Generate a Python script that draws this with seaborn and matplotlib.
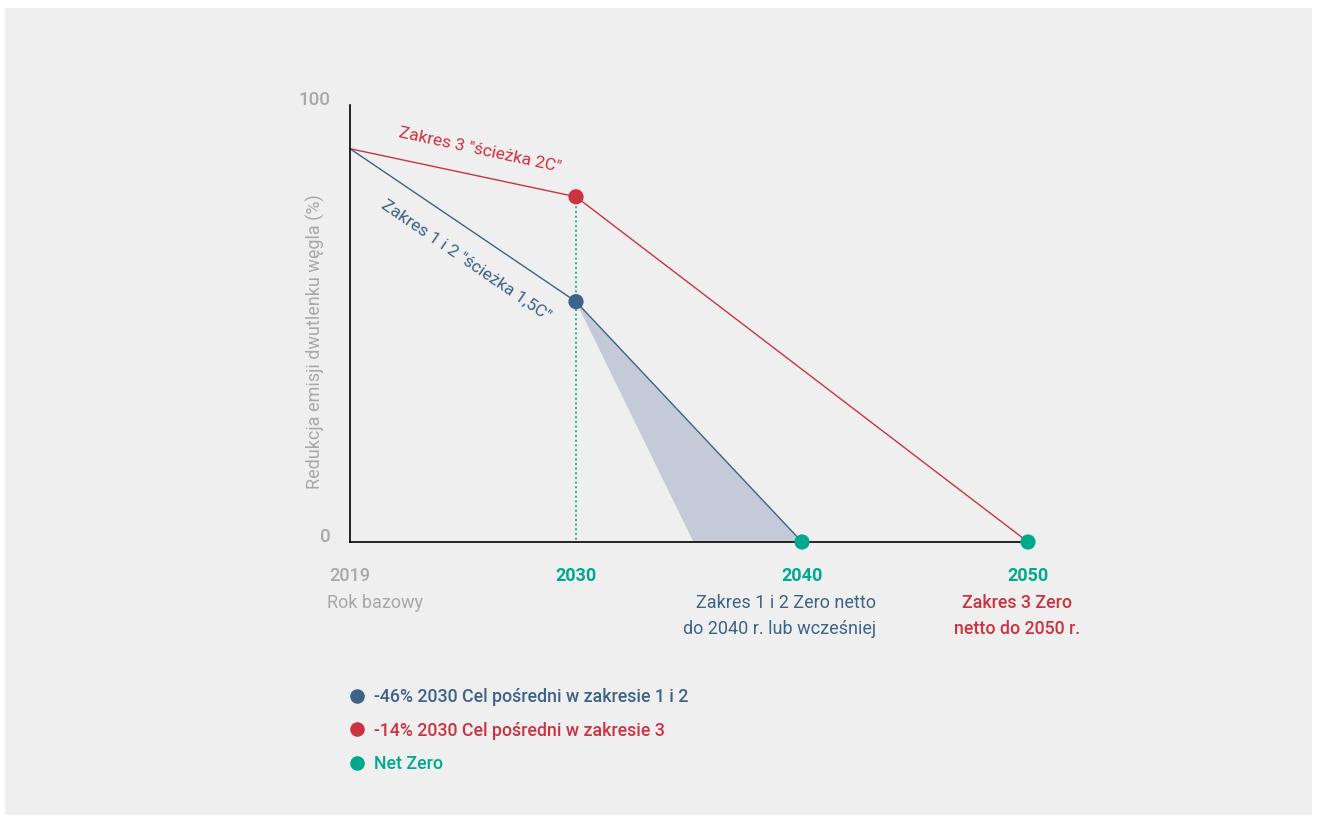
import matplotlib
matplotlib.use("Agg")
import matplotlib.pyplot as plt
from matplotlib.patches import Rectangle
from matplotlib.lines import Line2D
import seaborn as sns
import pandas as pd

# ---- data ----
# the x axis is drawn as evenly spaced milestones (2019, 2030, 2040, 2050)
milestones = [2019, 2030, 2040, 2050]
tick_labels = ["2019", "2030", "2040", "2050"]
scope12_years = [2019, 2030, 2040]
scope12_values = [90, 55, 0]
scope3_years = [2019, 2030, 2050]
scope3_values = [90, 79, 0]
netzero_years = [2040, 2050]
netzero_values = [0, 0]
shade_years = [2030, 2040, 2035.2]
shade_values = [55, 0, 0]
y_ticks = [0, 20, 40, 60, 80, 100]
y_tick_labels = ["0", "", "", "", "", "100"]
legend_labels = ["-46% 2030 Cel pośredni w zakresie 1 i 2",
                 "-14% 2030 Cel pośredni w zakresie 3",
                 "Net Zero"]

BLUE = "#3d6389"
RED = "#cc3340"
TEAL = "#00a88e"
SHADE = "#c5cad8"
GRAY = "#a8a8a8"
BG = "#efefef"


def pos(year):
    """Map a year onto the evenly spaced milestone axis."""
    for i in range(len(milestones) - 1):
        a, b = milestones[i], milestones[i + 1]
        if a <= year <= b:
            return i + (year - a) / (b - a)
    return float(len(milestones) - 1)


sns.set_theme(style="white")
plt.rcParams["font.family"] = ["Roboto", "DejaVu Sans"]

W, H = 1317, 823
fig = plt.figure(figsize=(W / 100, H / 100), dpi=100, facecolor="white")
fig.patches.append(Rectangle((5 / W, 8 / H), (1312 - 5) / W, (815 - 8) / H,
                             transform=fig.transFigure, facecolor=BG,
                             edgecolor="none", zorder=-10))

ax = fig.add_axes([350 / W, (H - 542) / H, (1028 - 350) / W, (542 - 105) / H])
ax.set_facecolor("none")

df12 = pd.DataFrame({"x": [pos(y) for y in scope12_years], "val": scope12_values})
df3 = pd.DataFrame({"x": [pos(y) for y in scope3_years], "val": scope3_values})

ax.fill([pos(y) for y in shade_years], shade_values, color=SHADE, lw=0, zorder=1)
sns.lineplot(data=df3, x="x", y="val", ax=ax, color=RED, lw=1.0,
             sort=False, zorder=2)
sns.lineplot(data=df12, x="x", y="val", ax=ax, color=BLUE, lw=1.0,
             sort=False, zorder=2)
ax.plot([pos(scope3_years[1])] * 2, [scope3_values[1], 0],
        color=TEAL, lw=1.2, ls=(0, (1.2, 1.6)), zorder=2)

sns.scatterplot(x=[pos(scope12_years[1])], y=[scope12_values[1]], ax=ax,
                color=BLUE, s=120, edgecolor="none", zorder=5, clip_on=False)
sns.scatterplot(x=[pos(scope3_years[1])], y=[scope3_values[1]], ax=ax,
                color=RED, s=120, edgecolor="none", zorder=5, clip_on=False)
sns.scatterplot(x=[pos(y) for y in netzero_years], y=netzero_values, ax=ax,
                color=TEAL, s=120, edgecolor="none", zorder=5, clip_on=False)

ax.set_xlim(0, len(milestones) - 1)
ax.set_ylim(0, 100)
for s in ["top", "right"]:
    ax.spines[s].set_visible(False)
for s in ["left", "bottom"]:
    ax.spines[s].set_color("black")
    ax.spines[s].set_linewidth(1.2)

ax.set_xticks([pos(y) for y in milestones])
ax.set_xticklabels(tick_labels, fontsize=13, fontweight="bold")
ax.tick_params(axis="x", direction="out", length=10, width=1.2, color="black", pad=8)
for lab, c in zip(ax.get_xticklabels(), [GRAY, TEAL, TEAL, TEAL]):
    lab.set_color(c)
    if c == GRAY:
        lab.set_fontweight("medium")

ax.set_yticks(y_ticks)
ax.set_yticklabels(y_tick_labels, fontsize=13.5, color=GRAY, va="baseline",
                   fontweight="medium")
ax.tick_params(axis="y", direction="out", length=5, width=1.2, color="black", pad=9)

ax.set_ylabel("Redukcja emisji dwutlenku węgla (%)", fontsize=13, color=GRAY)
ax.yaxis.set_label_coords((315 - 350) / 678, (542 - 342) / 437)
ax.yaxis.label.set_va("center")
ax.set_xlabel("")

# line labels
ax.text(0.574, 89.7, 'Zakres 3 "ścieżka 2C"', color=RED, fontsize=12.5,
        rotation=-12.2, ha="center", va="center", rotation_mode="anchor")
ax.text(0.513, 64.5, 'Zakres 1 i 2 "ścieżka 1,5C"', color=BLUE, fontsize=12.5,
        rotation=-34.4, ha="center", va="center", rotation_mode="anchor")


def px(x, y):
    return x / W, 1 - y / H


fig.text(*px(375, 603), "Rok bazowy", color=GRAY, fontsize=13, ha="center", va="center")
fig.text(*px(876, 603), "Zakres 1 i 2 Zero netto", color=BLUE, fontsize=13,
         ha="right", va="center")
fig.text(*px(876, 629), "do 2040 r. lub wcześniej", color=BLUE, fontsize=13,
         ha="right", va="center")
fig.text(*px(1017, 603), "Zakres 3 Zero", color=RED, fontsize=12.8,
         ha="center", va="center", fontweight="medium")
fig.text(*px(1017, 629), "netto do 2050 r.", color=RED, fontsize=12.8,
         ha="center", va="center", fontweight="medium")

handles = [Line2D([], [], marker="o", ls="", color=c, markersize=10.5,
                  markeredgewidth=0) for c in [BLUE, RED, TEAL]]
fig.legend(handles, legend_labels, loc="upper left",
           bbox_to_anchor=px(350, 688), frameon=False,
           handlelength=0.8, handletextpad=0.55, labelspacing=0.88,
           borderpad=0, borderaxespad=0,
           labelcolor=[BLUE, RED, TEAL],
           prop={"weight": "medium", "size": 12.8})

fig.savefig("out.png", dpi=100, facecolor="white")
